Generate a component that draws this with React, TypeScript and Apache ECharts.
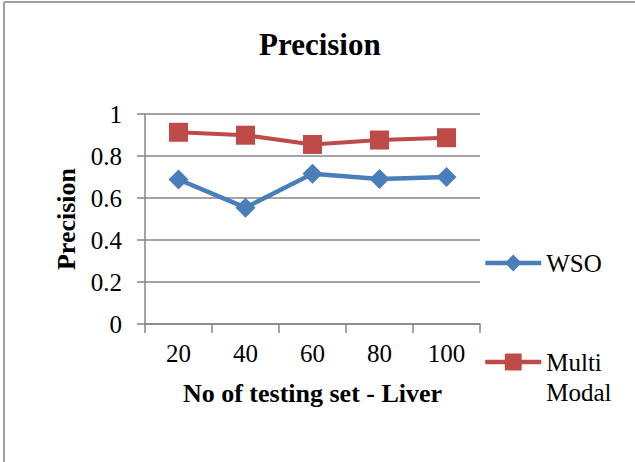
import React, { useEffect, useRef } from 'react';
import * as echarts from 'echarts';

const categories = ['20', '40', '60', '80', '100'];
const wsoValues = [0.688, 0.554, 0.716, 0.69, 0.7];
const multiModalValues = [0.913, 0.899, 0.855, 0.876, 0.887];
const seriesNames = ['WSO', 'Multi Modal'];
const chartTitle = 'Precision';
const xAxisTitle = 'No of testing set - Liver';
const yAxisTitle = 'Precision';

const FONT = '"Liberation Serif", "Times New Roman", serif';
const AXIS_COLOR = '#868686';
const BLUE = '#4a7ebb';
const RED = '#be4b48';

export default function App() {
  const ref = useRef<HTMLDivElement>(null);
  useEffect(() => {
    const chart = echarts.init(ref.current!, null, { renderer: 'svg' });
    chart.setOption({
      animation: false,
      backgroundColor: '#fff',
      title: {
        text: chartTitle,
        left: 259,
        top: 29,
        padding: 0,
        textStyle: { fontFamily: FONT, fontSize: 31, fontWeight: 'bold', color: '#000' },
      },
      grid: { left: 145, right: 155, top: 114, bottom: 138, containLabel: false },
      xAxis: {
        type: 'category',
        data: categories,
        boundaryGap: true,
        axisLine: { show: true, lineStyle: { color: AXIS_COLOR, width: 1.5 } },
        axisTick: { show: true, length: 9, lineStyle: { color: AXIS_COLOR, width: 1.5 } },
        axisLabel: { fontFamily: FONT, fontSize: 25, color: '#000', margin: 17 },
        splitLine: { show: false },
        name: xAxisTitle,
        nameLocation: 'middle',
        nameGap: 56,
        nameTextStyle: { fontFamily: FONT, fontSize: 26, fontWeight: 'bold', color: '#000' },
      },
      yAxis: {
        type: 'value',
        min: 0,
        max: 1,
        interval: 0.2,
        axisLine: { show: true, lineStyle: { color: AXIS_COLOR, width: 1.5 } },
        axisTick: { show: true, length: 8, lineStyle: { color: AXIS_COLOR, width: 1.5 } },
        axisLabel: { fontFamily: FONT, fontSize: 25, color: '#000', margin: 23 },
        splitLine: { show: true, lineStyle: { color: AXIS_COLOR, width: 1.5 } },
        name: yAxisTitle,
        nameLocation: 'middle',
        nameGap: 65,
        nameTextStyle: { fontFamily: FONT, fontSize: 26, fontWeight: 'bold', color: '#000' },
      },
      legend: [
        {
          data: [seriesNames[0]],
          orient: 'vertical',
          left: 483,
          top: 250.5,
          padding: 0,
          itemWidth: 56,
          itemHeight: 21,
          lineStyle: { width: 4.5 },
          textStyle: { fontFamily: FONT, fontSize: 25, color: '#000' },
        },
        {
          data: [seriesNames[1]],
          orient: 'vertical',
          left: 483,
          top: 317,
          padding: 0,
          itemWidth: 56,
          itemHeight: 21,
          lineStyle: { width: 4.5 },
          formatter: () => ' \nMulti\nModal',
          textStyle: {
            fontFamily: FONT,
            fontSize: 25,
            lineHeight: 30,
            color: '#000',
          },
        },
      ],
      graphic: [
        { type: 'line', shape: { x1: 4, y1: 2, x2: 635, y2: 2 }, style: { stroke: '#a0a0a0', lineWidth: 2 } },
        { type: 'line', shape: { x1: 4, y1: 2, x2: 4, y2: 462 }, style: { stroke: '#a0a0a0', lineWidth: 2 } },
      ],
      series: [
        {
          name: seriesNames[0],
          type: 'line',
          data: wsoValues,
          symbol: 'diamond',
          symbolSize: 20,
          lineStyle: { width: 4.5, color: BLUE },
          itemStyle: { color: BLUE },
        },
        {
          name: seriesNames[1],
          type: 'line',
          data: multiModalValues,
          symbol: 'rect',
          symbolSize: 19,
          lineStyle: { width: 4, color: RED },
          itemStyle: { color: RED },
        },
      ],
    });
    return () => chart.dispose();
  }, []);
  return <div ref={ref} style={{ position: 'fixed', left: 0, top: 0, width: 635, height: 462 }} />;
}
